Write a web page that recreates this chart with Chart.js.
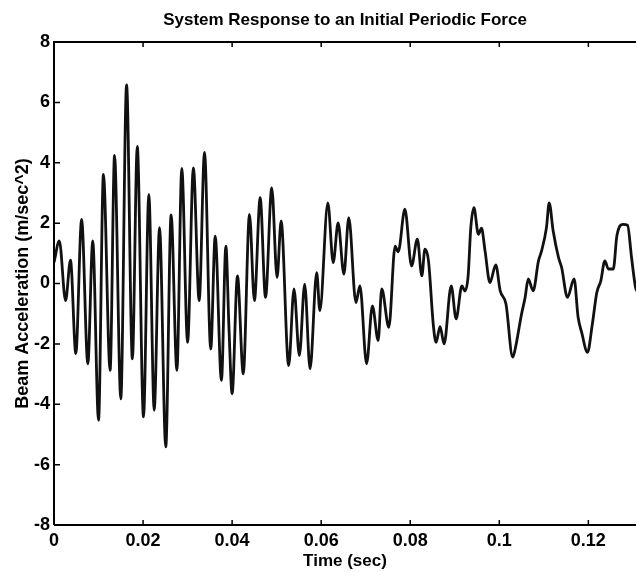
<!DOCTYPE html>
<html>
<head>
<meta charset="utf-8">
<script src="https://cdn.jsdelivr.net/npm/chart.js@4/dist/chart.umd.min.js"></script>
<style>
  html, body { margin: 0; padding: 0; background: #fff; }
  #wrap { width: 638px; height: 572px; }
</style>
</head>
<body>
<div id="wrap"><canvas id="responseChart" width="638" height="572"></canvas></div>
<script>
// time (sec) and beam acceleration (m/sec^2)
const timeSec = [
  0, 0.0012, 0.0026, 0.0037, 0.0049, 0.0062, 0.0076, 0.0087, 0.0100, 0.0111, 0.0126, 0.0136, 0.0150, 0.0163,
  0.0176, 0.0187, 0.0201, 0.0213, 0.0225, 0.0237, 0.0251, 0.0263, 0.0276, 0.0287, 0.0300, 0.0313, 0.0326, 0.0338,
  0.0352, 0.0362, 0.0376, 0.0386, 0.0393, 0.0400, 0.0412, 0.0425, 0.0439, 0.0450,
  0.0463, 0.0475, 0.0489, 0.0501, 0.0510, 0.0527, 0.0539, 0.0551, 0.0563, 0.0575,
  0.0590, 0.0597, 0.0615, 0.0627, 0.0638, 0.0651, 0.0662, 0.0678, 0.0687, 0.0702,
  0.0715, 0.0728, 0.0736, 0.0752, 0.0766, 0.0773, 0.0788,
  0.0803, 0.0816, 0.0826, 0.0833, 0.0841, 0.0852, 0.0858, 0.0867, 0.0876, 0.0892,
  0.0903, 0.0916, 0.0923, 0.0930, 0.0936, 0.0943, 0.0953, 0.0960, 0.0968, 0.0979,
  0.0992, 0.1002, 0.1015, 0.1030,
  0.1035, 0.1050, 0.1058, 0.1065, 0.1076, 0.1088, 0.1095, 0.1106, 0.1112, 0.1121,
  0.1133, 0.1140, 0.1153, 0.1168, 0.1177, 0.1185, 0.1198, 0.1209, 0.1219, 0.1228,
  0.1237, 0.1245, 0.1256, 0.1264, 0.1278, 0.1288, 0.1297, 0.1306, 0.1311
];
const accel = [
  0.7, 1.41, -0.57, 0.77, -2.32, 2.12, -2.66, 1.41, -4.53, 3.61, -2.88, 4.24, -3.82, 6.58,
  -2.5, 4.54, -4.42, 2.95, -4.2, 1.85, -5.41, 2.27, -2.88, 3.81, -1.95, 3.83, -0.57, 4.34,
  -2.17, 1.57, -3.21, 1.24, -1.5, -3.65, 0.25, -2.99, 2.29, -0.57,
  2.84, -0.46, 3.17, 0.2, 2.07, -2.72, -0.18, -2.39, -0.02, -2.83,
  0.36, -0.9, 2.67, 0.69, 2.01, 0.31, 2.18, -0.63, -0.08, -2.66,
  -0.74, -1.89, -0.18, -1.45, 1.24, 1.05, 2.46,
  0.58, 1.47, 0.25, 1.14, 0.75, -1.4, -1.95, -1.43, -2.0, -0.08,
  -1.17, -0.08, -0.25, 0.25, 1.85, 2.51, 1.63, 1.83, 1.08, 0.03,
  0.62, -0.24, -0.68, -2.44,
  -2.22, -1.01, -0.46, 0.15, -0.24, 0.75, 1.08, 1.86, 2.67, 1.74,
  0.86, 0.53, -0.46, 0.15, -1.12, -1.62, -2.28, -1.34, -0.3, 0.09,
  0.75, 0.48, 0.48, 1.57, 1.96, 1.93, 0.86, -0.13, -0.3
];
const xTicks = [0, 0.02, 0.04, 0.06, 0.08, 0.1, 0.12];
const yTicks = [-8, -6, -4, -2, 0, 2, 4, 6, 8];

const FAMILY = "'Liberation Sans', Arial, Helvetica, sans-serif";
const TITLE_FONT = { family: FAMILY, size: 17, weight: "bold" };
const LABEL_FONT = { family: FAMILY, size: 18, weight: "bold" };

// matlab style box: axis lines plus inward tick marks
const framePlugin = {
  id: "frame",
  afterDraw(chart) {
    const { ctx, chartArea: a, scales } = chart;
    ctx.save();
    ctx.strokeStyle = "#000";
    ctx.lineWidth = 2;
    ctx.beginPath();
    ctx.moveTo(a.left, a.bottom);
    ctx.lineTo(a.left, a.top);
    ctx.lineTo(a.right, a.top);
    ctx.moveTo(a.left, a.bottom);
    ctx.lineTo(a.right, a.bottom);
    ctx.stroke();
    ctx.lineWidth = 1.5;
    ctx.beginPath();
    scales.x.ticks.forEach(t => {
      const px = scales.x.getPixelForValue(t.value);
      ctx.moveTo(px, a.bottom); ctx.lineTo(px, a.bottom - 5);
      ctx.moveTo(px, a.top); ctx.lineTo(px, a.top + 5);
    });
    scales.y.ticks.forEach(t => {
      const py = scales.y.getPixelForValue(t.value);
      ctx.moveTo(a.left, py); ctx.lineTo(a.left + 6, py);
    });
    ctx.stroke();
    ctx.restore();
  }
};

const ctx = document.getElementById("responseChart").getContext("2d");
new Chart(ctx, {
  type: "line",
  data: {
    datasets: [{
      data: timeSec.map((t, i) => ({ x: t, y: accel[i] })),
      borderColor: "#111",
      borderWidth: 2.8,
      pointRadius: 0,
      cubicInterpolationMode: "monotone",
      fill: false
    }]
  },
  options: {
    responsive: false,
    animation: false,
    layout: { padding: { left: 0, right: 2, top: 0, bottom: 0 } },
    plugins: {
      legend: { display: false },
      tooltip: { enabled: false },
      title: {
        display: true,
        text: "System Response to an Initial Periodic Force",
        fullSize: false,
        color: "#000",
        font: TITLE_FONT,
        padding: { top: 10, bottom: 11.6 }
      }
    },
    scales: {
      x: {
        type: "linear",
        min: 0,
        max: 0.1307,
        grid: { display: false, drawTicks: false },
        border: { display: false },
        afterBuildTicks: s => { s.ticks = xTicks.map(v => ({ value: v })); },
        afterFit: s => { s.height = 47; },
        ticks: { color: "#000", font: LABEL_FONT, padding: 5, maxRotation: 0, callback: v => String(+v.toFixed(4)) },
        title: { display: true, text: "Time (sec)", color: "#000", font: TITLE_FONT, padding: { top: 2, bottom: 0 } }
      },
      y: {
        min: -8,
        max: 8,
        grid: { display: false, drawTicks: false },
        border: { display: false },
        afterBuildTicks: s => { s.ticks = yTicks.map(v => ({ value: v })); },
        afterFit: s => { s.width = 54; },
        ticks: { color: "#000", font: LABEL_FONT, padding: 4, callback: v => String(v) },
        title: { display: true, text: "Beam Acceleration (m/sec^2)", color: "#000", font: LABEL_FONT, padding: { top: 12, bottom: 0 } }
      }
    }
  },
  plugins: [framePlugin]
});
</script>
</body>
</html>
